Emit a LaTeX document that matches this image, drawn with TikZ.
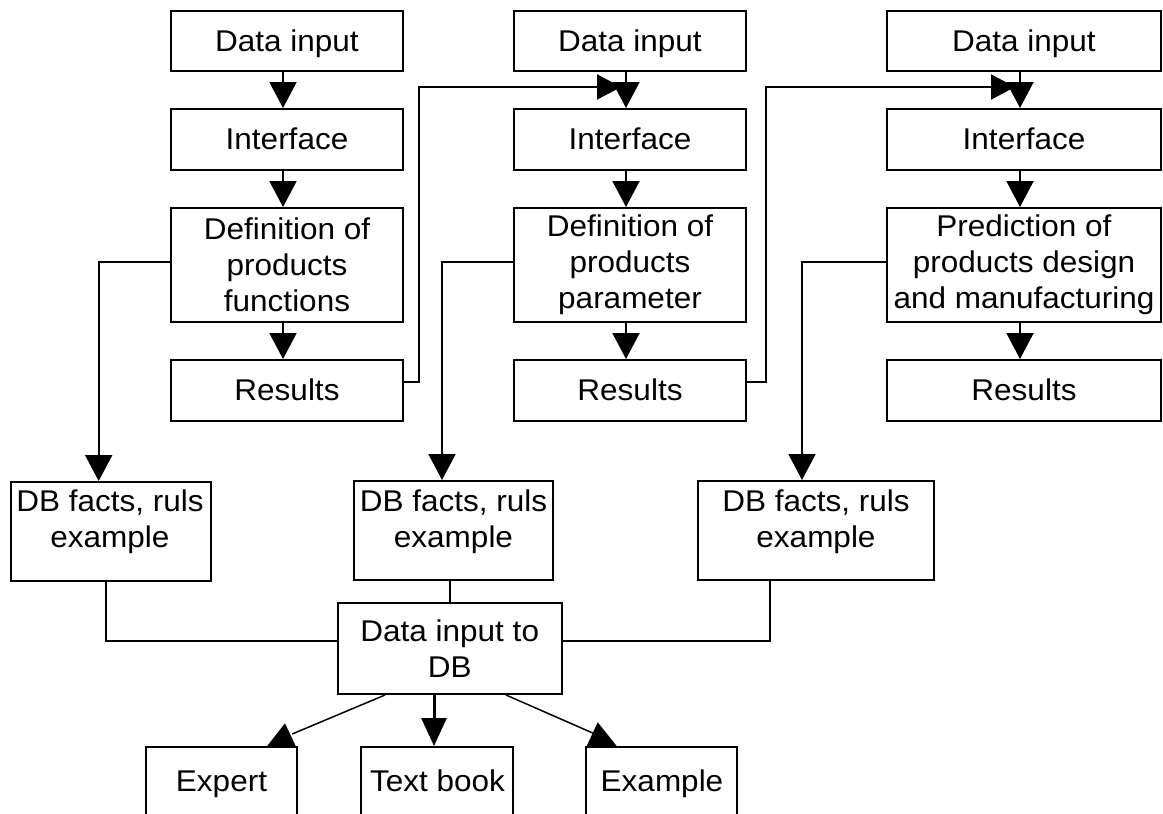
\documentclass[tikz,border=0pt]{standalone}
\usepackage{fontspec}
\setmainfont{Liberation Sans}[FakeStretch=1.05]
\usetikzlibrary{arrows.meta,calc}
\begin{document}
\begin{tikzpicture}[x=1pt,y=-1pt,
  every node/.style={font=\fontsize{30}{36}\selectfont},
  box/.style={draw, line width=2pt, inner sep=0pt, align=center},
  one/.style={text height=20.6pt, text depth=0pt},
  txt/.style={inner sep=0pt, align=center},
  conn/.style={line width=2pt},
  thinconn/.style={line width=1.5pt},
  arr/.style={-{Triangle[length=26pt,width=27pt]}},
  harr/.style={-{Triangle[length=24pt,width=25pt]}},
  varr/.style={-{Triangle[length=28pt,width=25pt]}},
]
\clip (0,0) rectangle (1163,814);
\fill[white] (0,0) rectangle (1163,814);

% column 1
\node[box, one, minimum width=232pt, minimum height=60pt] (di1) at (287,41) {Data input};
\node[box, one, minimum width=232pt, minimum height=61pt] (if1) at (287,139.5) {Interface};
\node[box, minimum width=232pt, minimum height=114pt] (def1) at (287,265) {Definition of\\products\\functions};
\node[box, one, minimum width=232pt, minimum height=61pt] (res1) at (287,390.5) {Results};
% column 2
\node[box, one, minimum width=232pt, minimum height=60pt] (di2) at (630,41) {Data input};
\node[box, one, minimum width=232pt, minimum height=61pt] (if2) at (630,139.5) {Interface};
\node[box, minimum width=232pt, minimum height=114pt] (def2) at (630,265) {Definition of\\products\\parameter};
\node[box, one, minimum width=232pt, minimum height=61pt] (res2) at (630,390.5) {Results};
% column 3
\node[box, one, minimum width=274pt, minimum height=60pt] (di3) at (1024,41) {Data input};
\node[box, one, minimum width=274pt, minimum height=61pt] (if3) at (1024,139.5) {Interface};
\node[box, minimum width=274pt, minimum height=114pt] (def3) at (1024,265) {Prediction of\\products design\\and manufacturing};
\node[box, one, minimum width=274pt, minimum height=61pt] (res3) at (1024,390.5) {Results};

% DB boxes
\node[box, minimum width=200pt, minimum height=99pt] (db1) at (110.7,531.5) {};
\node[txt, anchor=north] (db1t) at (110,490) {DB facts, ruls\\example};
\node[box, minimum width=199pt, minimum height=99pt] (db2) at (453.5,530.5) {};
\node[txt, anchor=north] (db2t) at (453.5,490) {DB facts, ruls\\example};
\node[box, minimum width=236pt, minimum height=99pt] (db3) at (816,530.5) {};
\node[txt, anchor=north] (db3t) at (816,490) {DB facts, ruls\\example};

\node[box, minimum width=224.5pt, minimum height=91pt] (dbin) at (449.75,648.5) {Data input to\\DB};

% bottom boxes
\node[box, minimum width=151pt, minimum height=100pt] (expert) at (221.2,797) {};
\node[txt, anchor=base] (expertt) at (221.5,791) {Expert};
\node[box, minimum width=152pt, minimum height=100pt] (textbook) at (437,797) {};
\node[txt, anchor=base] (textbookt) at (437.5,791) {Text book};
\node[box, minimum width=151.3pt, minimum height=100pt] (example) at (661.7,797) {};
\node[txt, anchor=base] (examplet) at (662,791) {Example};

% vertical flow arrows
\foreach \c in {1,2,3}{
  \draw[conn, arr] ($(di\c.south)+(-4,0)$) -- ($(if\c.north)+(-4,0)$);
  \draw[conn, arr] ($(if\c.south)+(-4,0)$) -- ($(def\c.north)+(-4,0)$);
  \draw[conn, arr] ($(def\c.south)+(-4,0)$) -- ($(res\c.north)+(-4,0)$);
}

% feedback from results to next column
\draw[conn, harr] ($(res1.east)+(0,-8.5)$) -- ++(15,0) |- ($(di2.south)+(-9,15)$);
\draw[conn, harr] ($(res2.east)+(0,-8.5)$) -- ++(19,0) |- ($(di3.south)+(-9,15)$);

% definitions to DB boxes
\draw[conn, arr] ($(def1.west)+(0,-3)$) -| ($(db1.north)+(-12,0)$);
\draw[conn, arr] ($(def2.west)+(0,-3)$) -| ($(db2.north)+(-11.5,0)$);
\draw[conn, arr] ($(def3.west)+(0,-3)$) -| ($(db3.north)+(-14,0)$);

% DB boxes to data input to DB
\draw[thinconn] ($(db1.south)+(-4.7,0)$) |- ($(dbin.west)+(0,-7.5)$);
\draw[thinconn] (dbin.north |- db2.south) -- (dbin.north);
\draw[thinconn] ($(db3.south)+(-46,0)$) |- ($(dbin.east)+(0,-7.5)$);

% data input to DB to sources
\draw[thinconn] ($(dbin.south)+(-64.75,0)$) -- ($(expert.north)+(71,-12)$);
\fill ($(expert.north)+(63.8,-22.7)$) -- ($(expert.north)+(46,0)$) -- ($(expert.north)+(74.5,0)$) -- cycle;
\draw[line width=3pt, varr] ($(dbin.south)+(-15.75,0)$) -- ($(textbook.north)+(-3,0)$);
\draw[thinconn] ($(dbin.south)+(56.25,0)$) -- ($(example.north)+(-66.7,-12)$);
\fill ($(example.north)+(-64,-23.7)$) -- ($(example.north)+(-75,0)$) -- ($(example.north)+(-45,0)$) -- cycle;
\end{tikzpicture}
\end{document}
